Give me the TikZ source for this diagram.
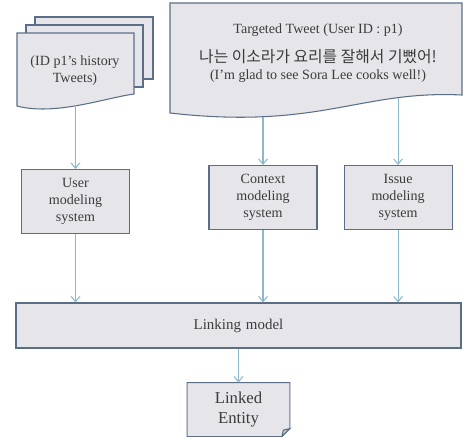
\documentclass[tikz,border=0pt]{standalone}
\usepackage{fontspec}
\setmainfont{Liberation Serif}
\newfontfamily\krfont{Noto Sans CJK KR}
\usetikzlibrary{arrows.meta, positioning}
\definecolor{boxfill}{HTML}{E5E5EA}
\definecolor{boxline}{HTML}{5A6F87}
\definecolor{arrowblue}{HTML}{8CB7CE}
\definecolor{textgray}{HTML}{3C3C3C}

\begin{document}
\begin{tikzpicture}[
        x=0.2mm, y=-0.2mm,
        module/.style = {rectangle, draw=boxline, fill=boxfill, text width=1.9cm, align=center, minimum width=2.16cm, minimum height=1.28cm, font=\fontsize{8}{9.6}\selectfont, text=textgray, line width=0.6pt},
        page/.style = {draw=boxline, fill=boxfill, line width=0.6pt},
        doctext/.style = {align=center, font=\fontsize{8}{9.6}\selectfont, text=textgray},
        arrow/.style = {-{Straight Barb[length=3pt, width=5pt]}, draw=arrowblue, line width=0.6pt}
    ]
        \useasboundingbox (0,0) rectangle (463,436);

        % Left: stack of history tweets
        \draw[page] (35,17) rectangle (153,79);
        \draw[page] (26,25) rectangle (143,87);
        \draw[page] (17,33) -- (134,33) -- (134,94) .. controls (105,98) and (55,116) .. (17,106) coordinate[pos=0.5] (historyOut) -- cycle;
        \node[doctext] (history) at (75,71) {(ID p1’s history\\Tweets)};

        % Right: targeted tweet
        \draw[page] (170,3) -- (462,3) -- (462,95) .. controls (360,90) and (320,130) .. (170,113) coordinate[pos=0.25] (issueIn) coordinate[pos=0.75] (contextIn) -- cycle;
        \node[doctext] (tweet) at (318,53) {Targeted Tweet (User ID : p1)\\[7pt]{\krfont\fontsize{9}{10.8}\selectfont 나는 이소라가 요리를 잘해서 기뻤어!}\\(I’m glad to see Sora Lee cooks well!)};

        % Modeling systems
        \node[module] (user) at (75.5,201.5) {User\\modeling\\system};
        \node[module] (context) at (263,197.5) {Context\\modeling\\system};
        \node[module, right=0.52cm of context] (issue) {Issue\\modeling\\system};

        % Linking model and output
        \node[module, minimum width=8.9cm, minimum height=0.9cm, text width=8.5cm, font=\fontsize{8.5}{10}\selectfont] (linking) at (238.5,325.5) {Linking model};
        \node[module, draw=none, minimum width=1.98cm, minimum height=1.06cm, text width=1.8cm, font=\fontsize{9.5}{11.4}\selectfont, below=0.68cm of linking] (entity) {Linked\\Entity};
        \fill[white] ([yshift=1.6mm]entity.south east) -- (entity.south east) -- ([xshift=-1.6mm]entity.south east) -- cycle;
        \draw[boxline, line width=0.6pt] (entity.north west) -- (entity.north east) -- ([yshift=1.6mm]entity.south east) -- ([xshift=-1.6mm]entity.south east) -- (entity.south west) -- cycle;
        \draw[boxline, fill=boxfill!75!gray, line width=0.6pt] ([yshift=1.6mm]entity.south east) -- ([shift={(-1.3mm,1.3mm)}]entity.south east) -- ([xshift=-1.6mm]entity.south east) -- cycle;

        % Connections
        \draw[arrow] (historyOut -| user.north) -- (user.north);
        \draw[arrow] (contextIn -| context.north) -- (context.north);
        \draw[arrow] (issueIn -| issue.north) -- (issue.north);
        \draw[arrow] (user) -- (user |- linking.north);
        \draw[arrow] (context) -- (context |- linking.north);
        \draw[arrow] (issue) -- (issue |- linking.north);
        \draw[arrow] (linking) -- (entity);

    \end{tikzpicture}
\end{document}
